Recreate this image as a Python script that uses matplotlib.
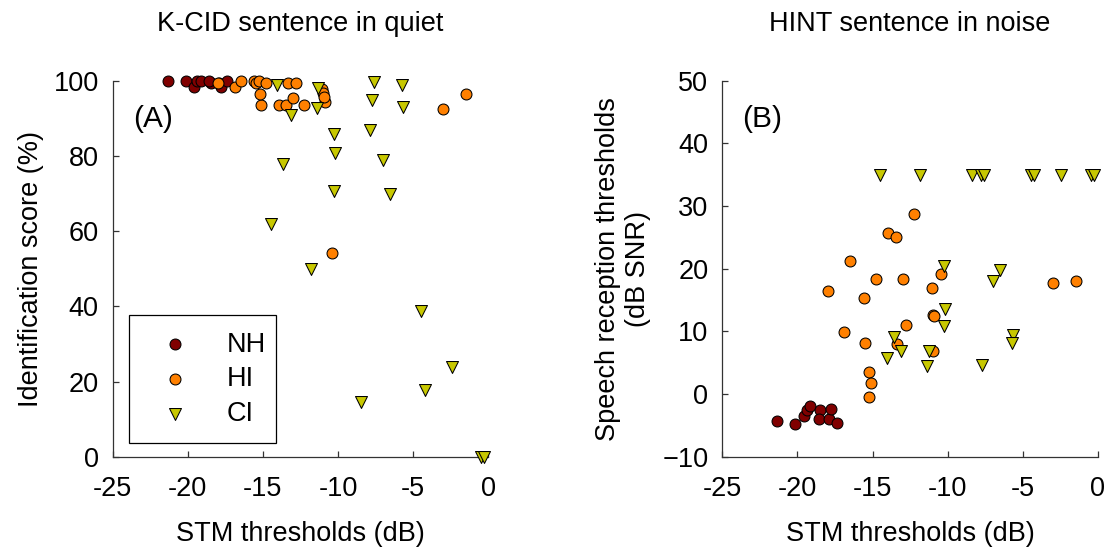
import matplotlib
matplotlib.use("Agg")
import matplotlib.pyplot as plt

plt.rcParams['font.family'] = ['Liberation Sans', 'DejaVu Sans']

# ---------------- data ----------------
# NH listeners: STM thresholds (dB), K-CID score (%), HINT SRT (dB SNR)
nh_stm  = [-21.33, -20.13, -19.58, -19.38, -19.14, -18.49, -18.58, -17.91, -17.78, -17.38]
nh_kcid = [100, 100, 98.4, 100, 100, 99.3, 100, 99.3, 98.4, 100]
nh_hint = [-4.26, -4.84, -3.51, -2.55, -1.91, -2.50, -3.99, -3.93, -2.45, -4.57]

# HI listeners
hi_stm  = [-17.96, -16.87, -16.47, -15.58, -15.47, -15.25, -15.10, -15.21, -14.77,
           -13.95, -13.46, -13.35, -12.97, -12.79, -12.26, -11.06, -10.99, -10.88,
           -10.95, -10.42, -3.01, -1.46]
hi_kcid = [99.3, 98.4, 100, 100, 99.3, 100, 93.5, 96.5, 99.3,
           93.5, 93.5, 99.3, 95.5, 99.3, 93.5, 97.7, 96.8, 94.4,
           95.7, 54.3, 92.4, 96.4]
hi_hint = [16.4, 9.94, 21.2, 15.3, 8.13, 3.56, 1.7, -0.42, 18.4,
           25.7, 25.1, 7.97, 18.3, 11.0, 28.8, 17.0, 12.65, 12.5,
           6.86, 19.2, 17.8, 18.1]

# CI listeners, panel A (K-CID)
ci_stm_a  = [-14.08, -11.31, -7.60, -5.74, -7.72, -5.70, -11.40, -13.13, -10.24, -7.87,
             -10.20, -7.03, -13.64, -10.24, -6.54, -14.48, -11.82, -4.48, -2.44, -4.21,
             -8.47, -0.49, -0.30]
ci_kcid   = [98.9, 98.0, 99.7, 98.9, 94.9, 92.9, 92.8, 90.9, 85.8, 86.9,
             80.9, 78.9, 77.8, 70.7, 69.9, 61.8, 49.8, 38.8, 23.8, 17.7,
             14.6, 0.0, 0.0]

# CI listeners, panel B (HINT)
ci_stm_b  = [-14.48, -11.82, -8.40, -7.80, -7.58, -4.45, -4.23, -2.45, -0.46, -0.24,
             -10.24, -6.51, -6.98, -10.17, -10.24, -5.67, -5.74, -13.59, -13.10, -14.03,
             -11.26, -11.37, -7.71]
ci_hint   = [35, 35, 35, 35, 35, 35, 35, 35, 35, 35,
             20.5, 19.8, 18.1, 13.6, 10.9, 9.4, 8.2, 9.1, 6.9, 5.7,
             6.9, 4.5, 4.6]

groups = ['NH', 'HI', 'CI']
xticks = [-25, -20, -15, -10, -5, 0]
yticks_a = [0, 20, 40, 60, 80, 100]
yticks_b = [-10, 0, 10, 20, 30, 40, 50]

# ---------------- style ----------------
c_nh, c_hi, c_ci = '#800000', '#ff8000', '#c8c800'
FS = 19.5
s_circ = 62
s_tri = 74

fig = plt.figure(figsize=(11.07, 5.52), dpi=100)
axA = fig.add_axes([0.1018, 0.1726, 0.3393, 0.6812])
axB = fig.add_axes([0.6525, 0.1726, 0.3393, 0.6812])


def style(ax):
    for sp in ['top', 'right']:
        ax.spines[sp].set_visible(False)
    for sp in ['left', 'bottom']:
        ax.spines[sp].set_linewidth(0.9)
        ax.spines[sp].set_color('#333333')
    ax.tick_params(direction='in', length=4, width=0.9, colors='#333333',
                   labelcolor='black', labelsize=FS)
    ax.tick_params(axis='x', pad=14)
    ax.tick_params(axis='y', pad=10)
    ax.set_xlim(-25, 0)
    ax.set_xticks(xticks)
    ax.set_xticklabels([str(t) for t in xticks])
    ax.set_xlabel('STM thresholds (dB)', fontsize=FS)
    ax.xaxis.set_label_coords(0.5, -0.172)


def dots(ax, x, y, color, marker, s):
    return ax.scatter(x, y, s=s, c=color, edgecolors='black', linewidths=0.75,
                      marker=marker, zorder=3, clip_on=False)


# Panel A
h1 = dots(axA, nh_stm, nh_kcid, c_nh, 'o', s_circ)
h2 = dots(axA, hi_stm, hi_kcid, c_hi, 'o', s_circ)
h3 = dots(axA, ci_stm_a, ci_kcid, c_ci, 'v', s_tri)
style(axA)
axA.set_ylim(0, 100)
axA.set_yticks(yticks_a)
axA.set_ylabel('Identification score (%)', fontsize=FS, labelpad=7)
axA.set_title('K-CID sentence in quiet', fontsize=FS, pad=36)
axA.text(0.054, 0.898, '(A)', transform=axA.transAxes, fontsize=FS + 2,
         ha='left', va='center')
leg = axA.legend([h1, h2, h3], groups, loc='lower left',
                 bbox_to_anchor=(0.043, 0.036, 0.392, 0.339), mode='expand',
                 borderaxespad=0, fancybox=False, edgecolor='black', framealpha=1,
                 fontsize=FS, handlelength=2.2, handletextpad=0.8,
                 labelspacing=0.32, borderpad=0.6, scatterpoints=1)
leg.get_frame().set_linewidth(0.9)

# Panel B
dots(axB, nh_stm, nh_hint, c_nh, 'o', s_circ)
dots(axB, hi_stm, hi_hint, c_hi, 'o', s_circ)
dots(axB, ci_stm_b, ci_hint, c_ci, 'v', s_tri)
style(axB)
axB.set_ylim(-10, 50)
axB.set_yticks(yticks_b)
axB.set_ylabel('Speech reception thresholds\n(dB SNR)', fontsize=FS, labelpad=8,
               multialignment='center')
axB.set_title('HINT sentence in noise', fontsize=FS, pad=36)
axB.text(0.054, 0.898, '(B)', transform=axB.transAxes, fontsize=FS + 2,
         ha='left', va='center')

fig.savefig('out.png', dpi=100)
